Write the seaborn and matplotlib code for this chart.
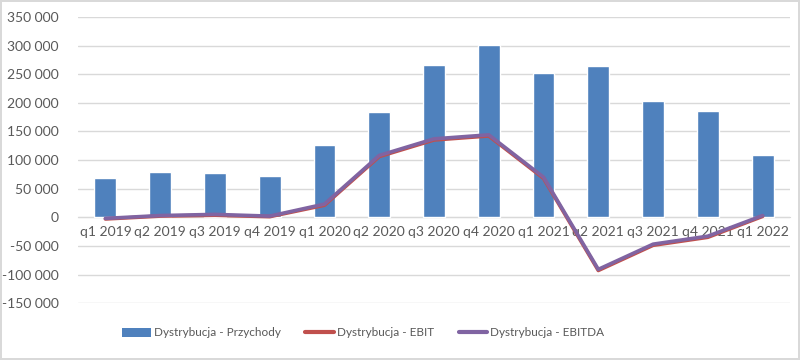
import numpy as np
import pandas as pd
import matplotlib
matplotlib.use("Agg")
import matplotlib.pyplot as plt
import seaborn as sns
from matplotlib.ticker import FuncFormatter, MultipleLocator
from matplotlib.patches import Patch
from matplotlib.lines import Line2D

# data
quarters = ["q1 2019", "q2 2019", "q3 2019", "q4 2019", "q1 2020", "q2 2020", "q3 2020",
            "q4 2020", "q1 2021", "q2 2021", "q3 2021", "q4 2021", "q1 2022"]
przychody = [68000, 79000, 77000, 72000, 126000, 184000, 266000,
             301000, 252000, 264000, 203000, 186000, 108000]
ebit = [-3000, 2000, 3500, 1000, 21000, 106000, 135000,
        142000, 68000, -93000, -49000, -35000, 1500]
ebitda = [-2000, 3000, 5000, 2000, 23000, 108000, 137000,
          144000, 70000, -91000, -47000, -33000, 3000]

df = pd.DataFrame({"kw": quarters, "Przychody": przychody, "EBIT": ebit, "EBITDA": ebitda})

sns.set_style("white")
plt.rcParams['font.family'] = ['Lato', 'DejaVu Sans']

bar_col = "#4F81BD"
ebit_col = "#C0504D"
ebitda_col = "#8064A2"
txt_col = "#595959"
grid_col = "#D9D9D9"

fig = plt.figure(figsize=(8, 3.6), dpi=100)
fig.patch.set_edgecolor(grid_col)
fig.patch.set_linewidth(1.5)
ax = fig.add_axes([0.0975, 0.158, 0.89, 0.795])

sns.barplot(data=df, x="kw", y="Przychody", color=bar_col, width=0.4,
            saturation=1, ax=ax, zorder=2)
sns.lineplot(data=df, x="kw", y="EBIT", color=ebit_col, linewidth=2.6,
             sort=False, ax=ax, zorder=3)
sns.lineplot(data=df, x="kw", y="EBITDA", color=ebitda_col, linewidth=2.6,
             sort=False, ax=ax, zorder=4)

ax.set_ylim(-150000, 350000)
ax.set_xlim(-0.5, len(quarters) - 0.5)
ax.yaxis.set_major_locator(MultipleLocator(50000))
ax.yaxis.set_major_formatter(FuncFormatter(lambda v, p: f"{v:,.0f}".replace(",", " ")))
ax.grid(axis="y", color=grid_col, linewidth=1, zorder=0)
ax.set_axisbelow(True)
ax.set_xlabel("")
ax.set_ylabel("")

for s in ["top", "right", "left"]:
    ax.spines[s].set_visible(False)
ax.spines["bottom"].set_position(("data", 0))
ax.spines["bottom"].set_color(grid_col)
ax.spines["bottom"].set_zorder(1)

ax.tick_params(axis="x", length=0, pad=6, labelsize=10, labelcolor=txt_col)
ax.tick_params(axis="y", length=0, pad=14, labelsize=10, labelcolor=txt_col)

handles = [Patch(facecolor=bar_col, edgecolor="none"),
           Line2D([0], [0], color=ebit_col, linewidth=3, solid_capstyle="round"),
           Line2D([0], [0], color=ebitda_col, linewidth=3, solid_capstyle="round")]
labels = ["Dystrybucja - Przychody", "Dystrybucja - EBIT", "Dystrybucja - EBITDA"]
fig.legend(handles, labels, loc="center", bbox_to_anchor=(0.454, 0.075), ncol=3,
           frameon=False, fontsize=8.5, labelcolor=txt_col, handlelength=2.4,
           handletextpad=0.25, columnspacing=2.1, handleheight=0.9)

fig.savefig("out.png", dpi=100)
